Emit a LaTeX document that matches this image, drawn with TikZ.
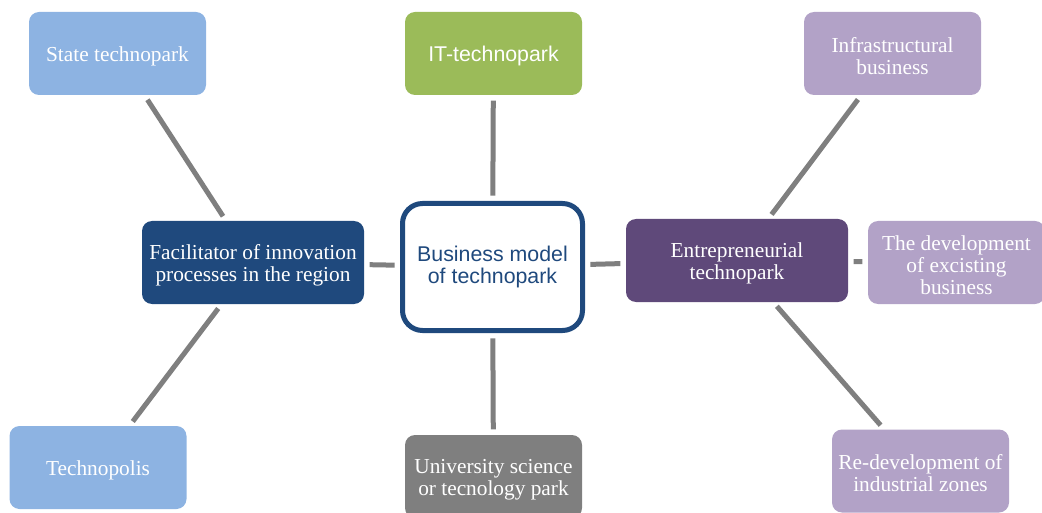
\documentclass[tikz,border=0pt]{standalone}
\usepackage{fontspec}
\setmainfont{Liberation Serif}
\setsansfont{Liberation Sans}
\usepackage{tikz}
\usetikzlibrary{positioning}

\definecolor{paleblue}{HTML}{8DB3E2}
\definecolor{itgreen}{HTML}{9BBB59}
\definecolor{palepurple}{HTML}{B2A2C7}
\definecolor{navy}{HTML}{1F497D}
\definecolor{plum}{HTML}{5F497A}
\definecolor{midgray}{HTML}{7F7F7F}

% extra room above the first line, so the text sits a bit lower in its box
\newcommand{\lift}{\rule{0pt}{15pt}}

\begin{document}
\begin{tikzpicture}[
    x=0.75pt, y=-0.75pt,
    box/.style={rounded corners=7.5pt, minimum width=132.75pt, minimum height=62.25pt, inner sep=2pt, align=center, text=white, font=\fontsize{16}{16.5}\selectfont},
    widebox/.style={box, minimum width=166.5pt},
    hub/.style={draw=navy, line width=3.75pt, fill=white, rounded corners=15pt, minimum width=135pt, minimum height=95.25pt, align=center, text=navy, font=\sffamily\fontsize{16}{16.5}\selectfont},
    link/.style={draw=midgray, line width=3.75pt, shorten <=4pt, shorten >=4pt}
]
\useasboundingbox (0,0) rectangle (1042,513);

\node[hub] (model) at (492.5,267) {Business model\\of technopark};

\node[widebox, fill=navy] (facil) at (253,262.5) {\lift Facilitator of innovation\\processes in the region};
\node[widebox, fill=plum] (entre) at (737,260.5) {\lift Entrepreneurial\\technopark};

\node[box, fill=paleblue] (state) at (117.5,53.5) {\lift State technopark};
\node[box, fill=itgreen, font=\sffamily\fontsize{16}{16.5}\selectfont] (itpark) at (493.5,53.5) {\lift IT-technopark};
\node[box, fill=palepurple] (infra) at (892.5,53.5) {\lift Infrastructural\\business};
\node[box, fill=palepurple] (devel) at (956.5,262.5) {\lift The development\\of excisting\\business};
\node[box, fill=paleblue] (polis) at (98,467.5) {\lift Technopolis};
\node[box, fill=midgray] (univ) at (493.5,476.5) {\lift University science\\or tecnology park};
\node[box, fill=palepurple] (redev) at (920.5,471) {\lift Re-development of\\industrial zones};

\draw[link] (itpark) -- (model);
\draw[link] (model) -- (univ);
\draw[link] (facil) -- (model);
\draw[link] (model) -- (entre);
\draw[link] (state) -- (facil);
\draw[link] (facil) -- (polis);
\draw[link] (infra) -- (entre);
\draw[link] (entre) -- (devel);
\draw[link] (entre) -- (redev);
\end{tikzpicture}
\end{document}
